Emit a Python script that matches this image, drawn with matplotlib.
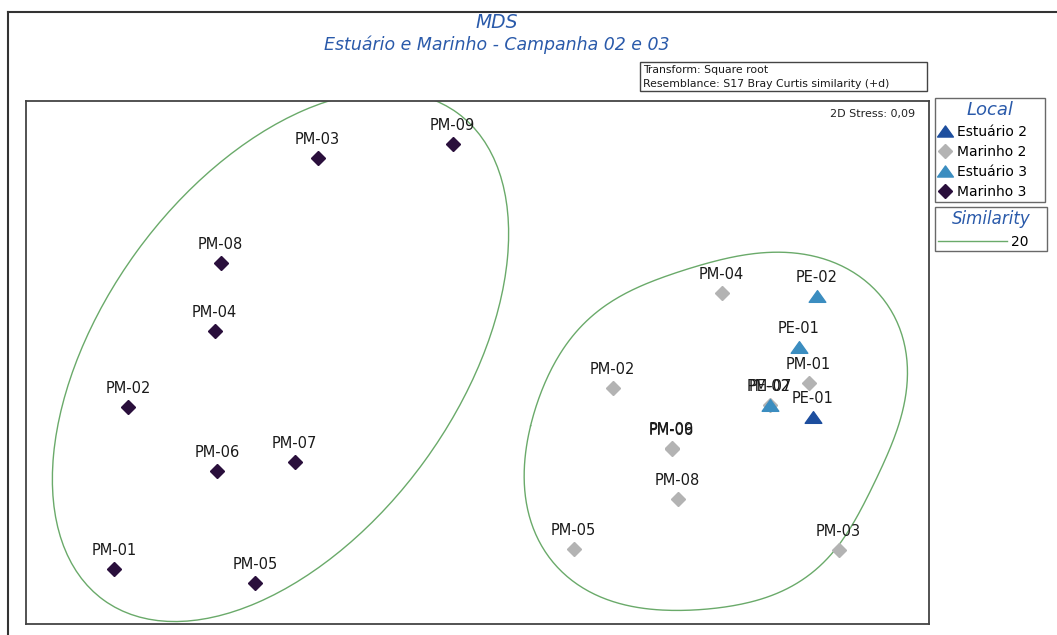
import numpy as np
import matplotlib
matplotlib.use("Agg")
import matplotlib.pyplot as plt
from matplotlib.patches import Ellipse, Rectangle
from matplotlib.lines import Line2D
from matplotlib.path import Path
from matplotlib.markers import MarkerStyle

# ---------------- data (MDS coordinates) ----------------
m3_labels = ["PM-01", "PM-02", "PM-03", "PM-04", "PM-05", "PM-06", "PM-07", "PM-08", "PM-09"]
m3_x = [-3.63, -3.49, -1.60, -2.63, -2.22, -2.60, -1.83, -2.57, -0.25]
m3_y = [-2.06, -0.44, 2.05, 0.32, -2.20, -1.08, -0.99, 1.00, 2.19]

m2_labels = ["PM-01", "PM-02", "PM-03", "PM-04", "PM-05", "PM-06", "PM-07", "PM-08", "PM-09"]
m2_x = [3.31, 1.35, 3.61, 2.44, 0.96, 1.94, 2.92, 2.00, 1.94]
m2_y = [-0.20, -0.25, -1.87, 0.70, -1.86, -0.86, -0.42, -1.36, -0.85]

e3_labels = ["PE-01", "PE-02", "PE-02"]
e3_x = [3.21, 3.39, 2.92]
e3_y = [0.16, 0.67, -0.42]

e2_labels = ["PE-01"]
e2_x = [3.35]
e2_y = [-0.54]

legend_names = ["Estuário 2", "Marinho 2", "Estuário 3", "Marinho 3"]

# similarity 20 contours
left_contour_center = (-1.97, 0.06)
left_contour_width = 6.02
left_contour_height = 3.56
left_contour_angle = 54
right_contour_x = [2.995, 2.495, 2.195, 1.425, 0.995, 0.655, 0.495, 0.475, 0.595, 0.825, 1.325,
                   1.995, 2.495, 2.995, 3.495, 3.925, 4.195, 4.305, 4.155, 3.825, 3.495]
right_contour_y = [1.105, 1.055, 0.955, 0.655, 0.325, -0.245, -0.905, -1.405, -1.745, -2.075, -2.375,
                   -2.475, -2.455, -2.305, -1.945, -1.345, -0.575, 0.095, 0.525, 0.825, 1.025]
similarity_level = "20"
stress_text = "2D Stress: 0,09"

# ---------------- styling ----------------
W, H = 1057, 635
fig = plt.figure(figsize=(W / 100, H / 100), dpi=100)
fig.patch.set_facecolor("white")
FONT = "DejaVu Sans"
BLUE_T = "#2a5aaa"
C_E2 = "#1d4e9e"
C_M2 = "#b3b3b3"
C_E3 = "#3b8dc0"
C_M3 = "#2a0f3c"
GREEN = "#6aaa6a"
FRAME = "#444444"

ax = fig.add_axes([26 / W, (H - 624) / H, 903 / W, 523 / H])
ax.set_xlim(-4.515, 4.515)
ax.set_ylim(-2.615, 2.615)
ax.set_xticks([])
ax.set_yticks([])
for s in ax.spines.values():
    s.set_color(FRAME)
    s.set_linewidth(1.3)

tri = MarkerStyle(Path([(-1, -0.7), (1, -0.7), (0, 0.7), (-1, -0.7)],
                       [Path.MOVETO, Path.LINETO, Path.LINETO, Path.CLOSEPOLY]))

# contours
ax.add_patch(Ellipse(left_contour_center, left_contour_width, left_contour_height,
                     angle=left_contour_angle, fill=False, edgecolor=GREEN, lw=1.0, zorder=1))


def smooth_closed(xs, ys, nharm=5, n=400):
    xs = np.asarray(xs)
    ys = np.asarray(ys)
    cx, cy = xs.mean(), ys.mean()
    th = np.arctan2(ys - cy, xs - cx)
    r = np.hypot(xs - cx, ys - cy)
    cols = [np.ones_like(th)]
    for k in range(1, nharm + 1):
        cols += [np.cos(k * th), np.sin(k * th)]
    A = np.column_stack(cols)
    coef, *_ = np.linalg.lstsq(A, r, rcond=None)
    t = np.linspace(-np.pi, np.pi, n)
    cols = [np.ones_like(t)]
    for k in range(1, nharm + 1):
        cols += [np.cos(k * t), np.sin(k * t)]
    rr = np.column_stack(cols) @ coef
    return cx + rr * np.cos(t), cy + rr * np.sin(t)


rx, ry = smooth_closed(right_contour_x, right_contour_y)
ax.plot(rx, ry, color=GREEN, lw=1.0, zorder=1)

# points
h_m3, = ax.plot(m3_x, m3_y, ls="none", marker="D", ms=7.6, color=C_M3, zorder=3)
h_m2, = ax.plot(m2_x, m2_y, ls="none", marker="D", ms=7.2, color=C_M2, zorder=3)
h_e3, = ax.plot(e3_x, e3_y, ls="none", marker=tri, ms=12, color=C_E3, zorder=4)
h_e2, = ax.plot(e2_x, e2_y, ls="none", marker=tri, ms=12, color=C_E2, zorder=4)

for labs, xs, ys in [(m3_labels, m3_x, m3_y), (m2_labels, m2_x, m2_y),
                     (e3_labels, e3_x, e3_y), (e2_labels, e2_x, e2_y)]:
    for lab, x, y in zip(labs, xs, ys):
        ax.annotate(lab, (x, y), xytext=(0, 13), textcoords="offset points",
                    ha="center", va="center", fontsize=10.5, family=FONT, color="#1a1a1a", zorder=5)

ax.text(0.985, 0.985, stress_text, transform=ax.transAxes, ha="right", va="top",
        fontsize=8, family=FONT, color="#222222")

# titles
fig.text(497 / W, 1 - 23 / H, "MDS", ha="center", va="center", fontsize=13.5,
         style="italic", family=FONT, color=BLUE_T)
fig.text(497 / W, 1 - 45 / H, "Estuário e Marinho - Campanha 02 e 03", ha="center", va="center",
         fontsize=12.5, style="italic", family=FONT, color=BLUE_T)

# info box
fig.add_artist(Rectangle((640 / W, 1 - 91 / H), (927 - 640) / W, 29 / H, transform=fig.transFigure,
                         fill=False, edgecolor=FRAME, lw=1.0))
fig.text(643 / W, 1 - 70 / H, "Transform: Square root", ha="left", va="center",
         fontsize=7.8, family=FONT, color="#1a1a1a")
fig.text(643 / W, 1 - 84 / H, "Resemblance: S17 Bray Curtis similarity (+d)", ha="left", va="center",
         fontsize=7.8, family=FONT, color="#1a1a1a")

# outer lines
fig.add_artist(Line2D([8 / W, 1], [1 - 12 / H, 1 - 12 / H], transform=fig.transFigure, color="#333333", lw=1.5))
fig.add_artist(Line2D([8 / W, 8 / W], [0, 1 - 12 / H], transform=fig.transFigure, color="#333333", lw=1.5))

# Local legend
leg1 = fig.legend([h_e2, h_m2, h_e3, h_m3], legend_names, title="Local",
                  loc="upper left", bbox_to_anchor=(935 / W, 1 - 98 / H, 110 / W, 0.0),
                  mode="expand", frameon=True, fancybox=False, edgecolor=FRAME,
                  prop={"family": FONT, "size": 10}, handlelength=0.9, handletextpad=0.4,
                  labelspacing=0.42, borderpad=0.25, borderaxespad=0, markerscale=0.95)
leg1.get_frame().set_linewidth(1.0)
leg1.get_title().set_color(BLUE_T)
leg1.get_title().set_fontstyle("italic")
leg1.get_title().set_fontsize(13)
leg1.get_title().set_family(FONT)

sim_handle = Line2D([], [], color=GREEN, lw=1.0)
leg2 = fig.legend([sim_handle], [similarity_level], title="Similarity",
                  loc="upper left", bbox_to_anchor=(935 / W, 1 - 207 / H, 112 / W, 0.0),
                  mode="expand", frameon=True, fancybox=False, edgecolor=FRAME,
                  prop={"family": FONT, "size": 10}, handlelength=5.0, handletextpad=0.3,
                  borderpad=0.2, borderaxespad=0)
leg2.get_frame().set_linewidth(1.0)
leg2.get_title().set_color(BLUE_T)
leg2.get_title().set_fontstyle("italic")
leg2.get_title().set_fontsize(12)
leg2.get_title().set_family(FONT)

fig.savefig("out.png", dpi=100, facecolor="white")
